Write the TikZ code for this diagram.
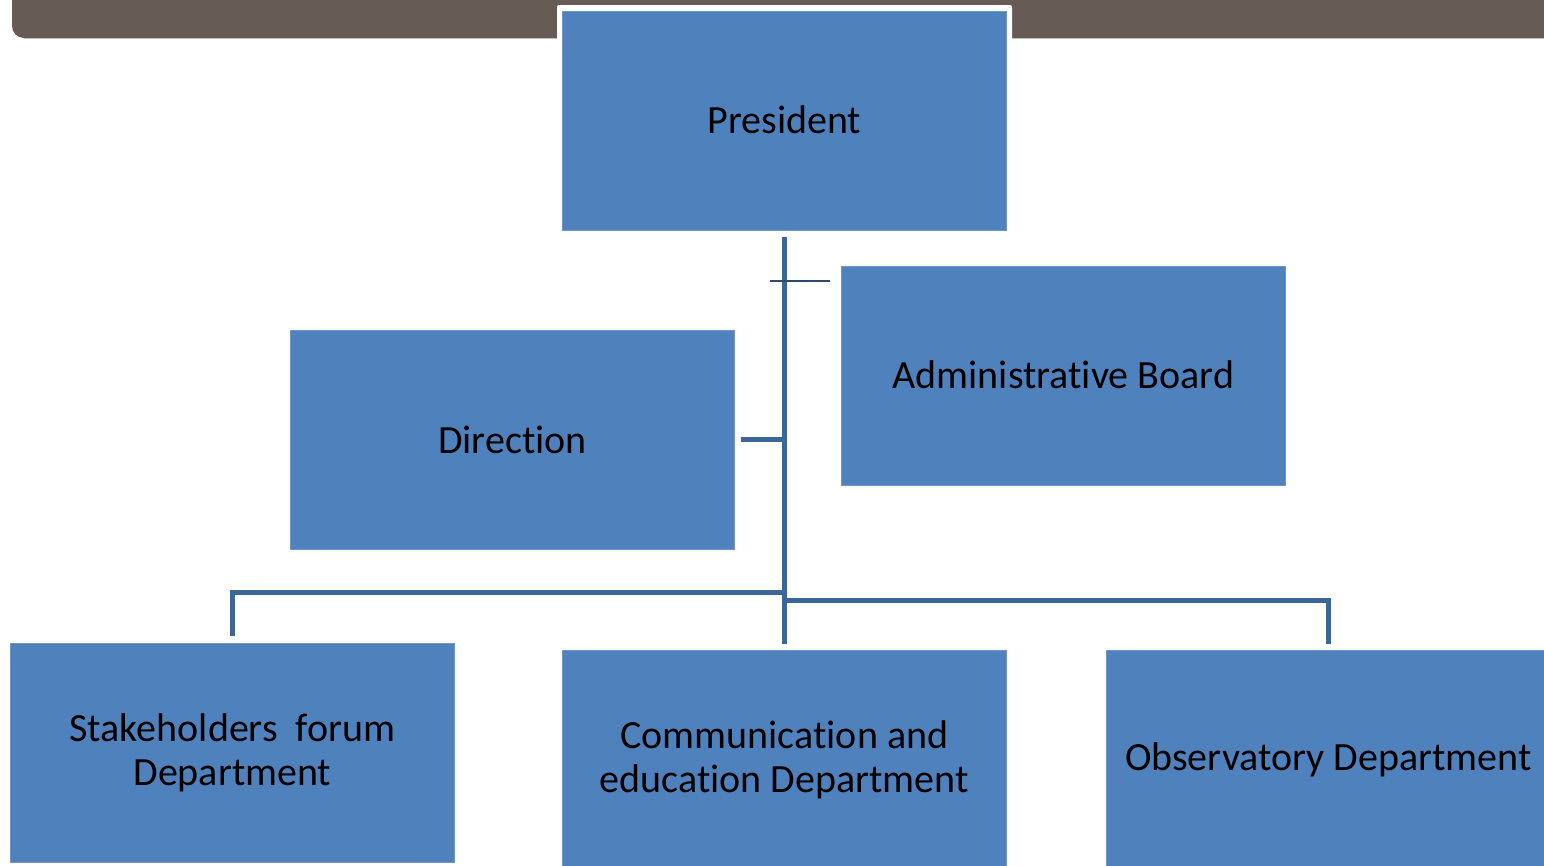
\documentclass[tikz,border=0pt]{standalone}
\usepackage{fontspec}
\setmainfont[Ligatures=NoCommon,RawFeature={-liga;-clig;-calt}]{Carlito}
\definecolor{boxblue}{HTML}{4F81BD}
\definecolor{boxedge}{HTML}{6E96C8}
\definecolor{linkblue}{HTML}{3C6598}
\definecolor{thinlink}{HTML}{2E4A6E}
\definecolor{barbrown}{HTML}{665B55}
\begin{document}
\begin{tikzpicture}[x=1pt,y=-1pt,
  box/.style={fill=boxblue, draw=boxedge, line width=0.8pt, minimum width=444pt, minimum height=219pt,
    inner sep=0pt, font=\fontsize{40}{44}\selectfont, align=center, anchor=north west, text=black},
  link/.style={draw=linkblue, line width=5pt},
  thinline/.style={draw=thinlink, line width=1.6pt}]
\useasboundingbox (0,0) rectangle (1544,865);
\clip (0,0) rectangle (1544,865);
% top bar
\fill[barbrown, rounded corners=12pt] (12,-20) rectangle (1570,38);
\draw[black!25, line width=1pt] (24,38.5) -- (1544,38.5);
\fill[white, rounded corners=2pt] (557,5) rectangle (1012,60);
% boxes
\node[box] (pres) at (562,11) {\raisebox{2pt}{President}};
\node[box] (admin) at (841,266) {\raisebox{2pt}{Administrative Board}};
\node[box] (dir) at (290,330) {\raisebox{1pt}{Direction}};
\node[box] (stake) at (10,643) {Stakeholders\ \ forum\\Department};
\node[box] (comm) at (562,650) {Communication and\\education Department};
\node[box] (obs) at (1106,650) {Observatory Department};
% connectors
\coordinate (lj) at (784,592);
\coordinate (rj) at (784,600);
\draw[link] ([yshift=-6pt]pres.south) -- ([yshift=6pt]comm.north);
\draw[link] ([xshift=6pt]dir.east) -- (dir.east -| pres.south);
\draw[link] (lj) -| ([yshift=7pt]stake.north);
\draw[link] (rj) -| ([yshift=6pt]obs.north);
\coordinate (t1) at (770,281);
\coordinate (t2) at (830,281);
\draw[thinline] (t1) -- (t2);
\end{tikzpicture}
\end{document}
